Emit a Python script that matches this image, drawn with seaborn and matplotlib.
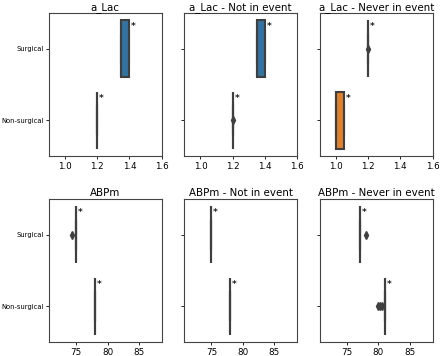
import numpy as np
import pandas as pd
import matplotlib
matplotlib.use("Agg")
import matplotlib.pyplot as plt
import seaborn as sns

categories = ["Surgical", "Non-surgical"]
colors = ["#1f77b4", "#ff7f0e"]

titles = ["a_Lac", "a_Lac - Not in event", "a_Lac - Never in event",
          "ABPm", "ABPm - Not in event", "ABPm - Never in event"]

# a_Lac
lac_all_surgical = [1.35, 1.35, 1.35, 1.40, 1.40]
lac_all_nonsurgical = [1.20, 1.20, 1.20, 1.20]
lac_notin_surgical = [1.35, 1.35, 1.35, 1.40, 1.40]
lac_notin_nonsurgical = [1.20, 1.20, 1.20, 1.20, 1.201]
lac_never_surgical = [1.20, 1.20, 1.20, 1.20, 1.201]
lac_never_nonsurgical = [1.00, 1.00, 1.00, 1.05, 1.05]

# ABPm
abp_all_surgical = [74.4, 75, 75, 75, 75]
abp_all_nonsurgical = [78, 78, 78, 78]
abp_notin_surgical = [75, 75, 75, 75]
abp_notin_nonsurgical = [78, 78, 78, 78]
abp_never_surgical = [77, 77, 77, 77, 78]
abp_never_nonsurgical = [81] * 10 + [80.0, 80.3, 80.5]

panels = [
    (lac_all_surgical, lac_all_nonsurgical),
    (lac_notin_surgical, lac_notin_nonsurgical),
    (lac_never_surgical, lac_never_nonsurgical),
    (abp_all_surgical, abp_all_nonsurgical),
    (abp_notin_surgical, abp_notin_nonsurgical),
    (abp_never_surgical, abp_never_nonsurgical),
]

row_xlim = [(0.9, 1.6), (70.7, 88.6)]
row_xticks = [[1.0, 1.2, 1.4, 1.6], [75, 80, 85]]

fig = plt.figure(figsize=(4.4, 3.56), dpi=100)
lefts = [0.1114, 0.419, 0.727]
bottoms = [0.5626, 0.040]
W, H = 0.256, 0.40


def upper_whisker(vals):
    v = np.asarray(vals, dtype=float)
    q1, q3 = np.percentile(v, [25, 75])
    hi = q3 + 1.5 * (q3 - q1)
    return v[v <= hi].max()


for k, (surg, nons) in enumerate(panels):
    r, c = divmod(k, 3)
    ax = fig.add_axes([lefts[c], bottoms[r], W, H])
    df = pd.DataFrame({
        "value": list(surg) + list(nons),
        "group": ["Surgical"] * len(surg) + ["Non-surgical"] * len(nons),
    })
    sns.boxplot(data=df, x="value", y="group", hue="group", order=categories,
                hue_order=categories, palette=colors, saturation=0.75,
                legend=False, width=0.8, linewidth=1.5, dodge=False,
                linecolor="#3f3f3f",
                flierprops=dict(marker="d", markersize=4,
                                markerfacecolor="#3f3f3f",
                                markeredgecolor="#3f3f3f"),
                ax=ax)
    for i, vals in enumerate((surg, nons)):
        ax.annotate("*", xy=(upper_whisker(vals), i - 0.31),
                    xytext=(3.0, 0), textcoords="offset points",
                    ha="center", va="center", fontsize=6.5,
                    fontweight="bold", color="#222222")
    ax.set_xlim(*row_xlim[r])
    ax.set_xticks(row_xticks[r])
    ax.set_ylim(1.5, -0.5)
    ax.set_xlabel("")
    ax.set_ylabel("")
    ax.set_title(titles[k], fontsize=7.4, pad=2.5)
    ax.tick_params(axis="x", labelsize=6.3, length=2.5, width=0.6, pad=2)
    ax.tick_params(axis="y", labelsize=4.9, length=2.5, width=0.6, pad=1.5)
    if c != 0:
        ax.set_yticklabels([])
    for s in ax.spines.values():
        s.set_linewidth(0.8)
        s.set_color("#444444")

fig.savefig("out.png", dpi=100)
